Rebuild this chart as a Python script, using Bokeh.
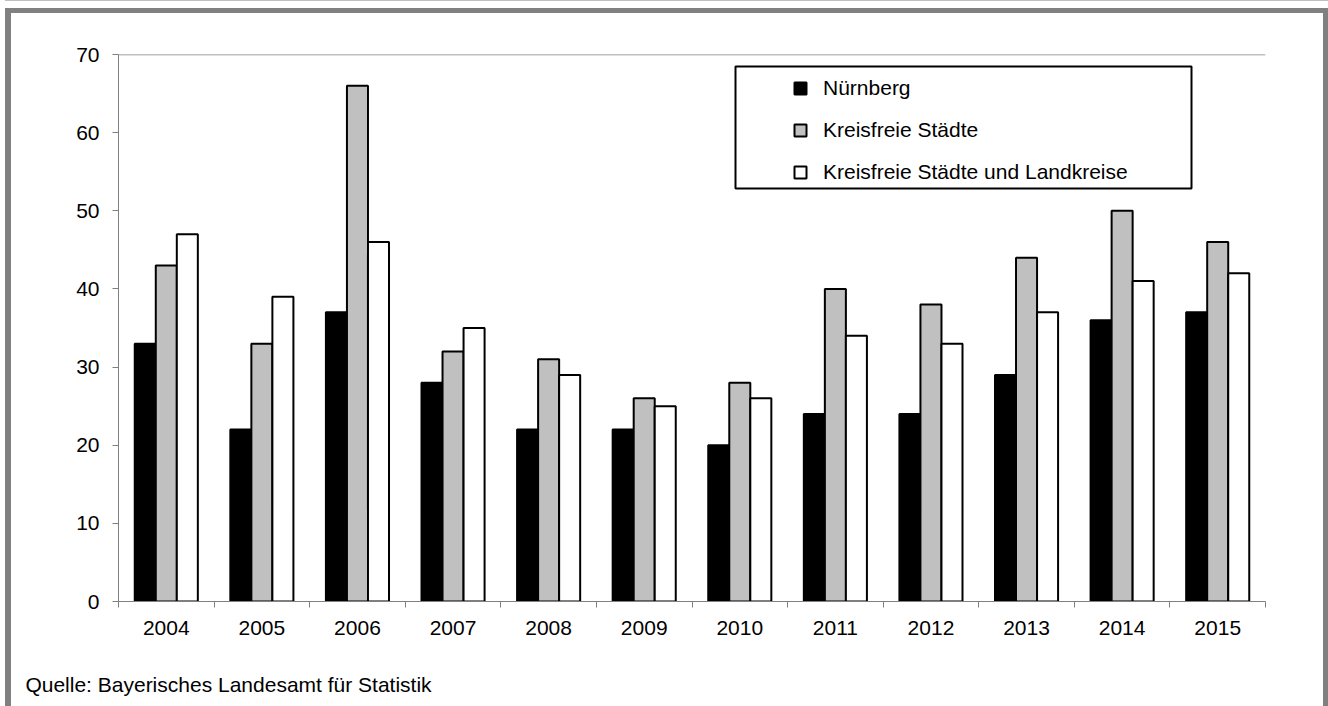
import numpy as np
from bokeh.plotting import figure
from bokeh.models import (Range1d, FixedTicker, LinearAxis, Legend, LegendItem,
                          Span, BoxAnnotation, ColumnDataSource)
from bokeh.embed import file_html
from bokeh.resources import INLINE

years = ["2004", "2005", "2006", "2007", "2008", "2009", "2010", "2011", "2012", "2013", "2014", "2015"]
nuernberg = [33, 22, 37, 28, 22, 22, 20, 24, 24, 29, 36, 37]
kreisfreie = [43, 33, 66, 32, 31, 26, 28, 40, 38, 44, 50, 46]
kreise = [47, 39, 46, 35, 29, 25, 26, 34, 33, 37, 41, 42]
series_names = ["Nürnberg", "Kreisfreie Städte", "Kreisfreie Städte und Landkreise"]
series_colors = ["#000000", "#c0c0c0", "#ffffff"]
y_ticks = [0, 10, 20, 30, 40, 50, 60, 70]
source_text = "Quelle: Bayerisches Landesamt für Statistik"

FONT = "Liberation Sans"
FS = "21px"
n = len(years)
centers = np.arange(n) + 0.5
bounds = list(np.arange(n + 1).astype(float))

FRAME_W = 1147
p = figure(width=1323, height=698, output_backend="svg", toolbar_location=None,
           x_range=Range1d(0, n), y_range=Range1d(y_ticks[0], y_ticks[-1]),
           x_axis_type=None, y_axis_type=None,
           min_border_left=107, min_border_right=69, min_border_top=41, min_border_bottom=110)
p.styles = {"border-top": "5px solid #808080", "border-left": "6px solid #808080",
            "border-right": "5px solid #808080", "margin-left": "5px", "margin-top": "8px",
            "overflow": "hidden",
            "box-shadow": "0px -7px 0px 0px #ffffff, 0px -8px 0px 0px #c0c0c0"}
p.outline_line_color = None
p.background_fill_color = "white"
p.border_fill_color = "white"

# y axis
yax = LinearAxis(ticker=FixedTicker(ticks=y_ticks))
yax.axis_line_color = "#808080"
yax.major_tick_line_color = "#808080"
yax.major_tick_out = 6
yax.major_tick_in = 0
yax.minor_tick_line_color = None
yax.major_label_standoff = 13
yax.major_label_text_font = FONT
yax.major_label_text_font_size = FS
yax.major_label_text_color = "black"
p.add_layout(yax, "left")

# x axis: labels at category centres, ticks at category boundaries (minor ticks)
xax = LinearAxis(ticker=FixedTicker(ticks=list(centers), minor_ticks=bounds))
xax.major_label_overrides = {float(c): y for c, y in zip(centers, years)}
xax.axis_line_color = "#808080"
xax.major_tick_line_color = None
xax.major_tick_out = 0
xax.major_tick_in = 0
xax.minor_tick_line_color = "#808080"
xax.minor_tick_out = 6
xax.minor_tick_in = 0
xax.major_label_standoff = 13
xax.major_label_text_font = FONT
xax.major_label_text_font_size = FS
xax.major_label_text_color = "black"
p.add_layout(xax, "below")

# source note, placed as a single label in its own bottom strip
foot_x = 110 * n / FRAME_W          # centre of the note, 110 px right of the frame's left edge
fax = LinearAxis(ticker=FixedTicker(ticks=[foot_x], minor_ticks=[]))
fax.major_label_overrides = {foot_x: source_text}
fax.axis_line_color = None
fax.major_tick_line_color = None
fax.minor_tick_line_color = None
fax.major_tick_out = 0
fax.major_tick_in = 0
fax.major_label_standoff = 35
fax.major_label_text_font = FONT
fax.major_label_text_font_size = FS
fax.major_label_text_color = "black"
p.add_layout(fax, "below")

# grid
p.ygrid.ticker = FixedTicker(ticks=y_ticks[1:-1])
p.ygrid.grid_line_color = "black"
p.ygrid.grid_line_width = 1
p.xgrid.grid_line_color = None
p.add_layout(Span(location=y_ticks[-1], dimension="width", line_color="#808080", line_width=1.5))

# bars
bw = 0.22
offsets = [-bw, 0.0, bw]
items = []
for vals, name, col, off in zip([nuernberg, kreisfreie, kreise], series_names, series_colors, offsets):
    src = ColumnDataSource(dict(x=centers + off, top=vals))
    p.vbar(x="x", top="top", width=bw, bottom=0, source=src,
           fill_color=col, line_color="black", line_width=2)
    # legend swatch renderer (no visible point in the plot)
    r = p.scatter(x=[np.nan], y=[np.nan], marker="square", fill_color=col,
                  line_color="black", line_width=2)
    items.append(LegendItem(label=name, renderers=[r]))

# legend frame
p.add_layout(BoxAnnotation(left=617, right=1073, bottom=413, top=535,
                           left_units="screen", right_units="screen",
                           bottom_units="screen", top_units="screen",
                           fill_color="white", fill_alpha=1,
                           line_color="black", line_alpha=1, line_width=2))

legend = Legend(items=items, location=(667, 414))
legend.border_line_color = None
legend.background_fill_alpha = 0
legend.padding = 0
legend.spacing = 12
legend.glyph_width = 30
legend.glyph_height = 30
legend.label_height = 30
legend.label_standoff = 8
legend.label_text_font = FONT
legend.label_text_font_size = FS
legend.label_text_color = "black"
legend.margin = 0
p.add_layout(legend, "center")

open("out.html", "w").write(file_html(p, INLINE))
